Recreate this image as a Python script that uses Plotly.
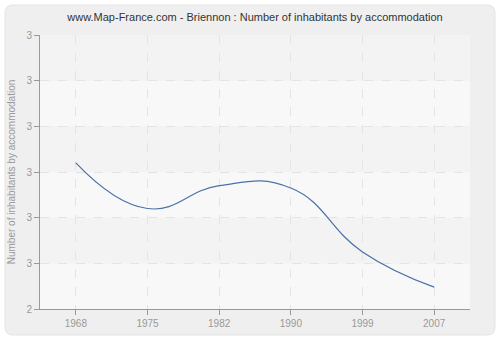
import plotly.graph_objects as go

years = ["1968", "1975", "1982", "1990", "1999", "2007"]
values = [2.72, 2.62, 2.67, 2.665, 2.525, 2.448]
y_tickvals = [2.4, 2.5, 2.6, 2.7, 2.8, 2.9, 3.0]
y_ticktext = ["2", "3", "3", "3", "3", "3", "3"]

W, H = 500, 340
L, R, T, B = 40, 30, 35, 31
pw, ph = W - L - R, H - T - B

def px(x):
    return (x - L) / pw

def py(y):
    return (H - B - y) / ph

fig = go.Figure()
fig.add_trace(go.Scatter(
    x=years, y=values, mode="lines",
    line=dict(color="#4a72a6", width=1.2, shape="spline", smoothing=1.3),
    hoverinfo="skip", showlegend=False,
))

shapes = []
# outer rounded panel
x0, x1, y0, y1, r = px(5), px(495), py(335), py(5), 8
rx, ry = r / pw, r / ph
path = (f"M {x0+rx},{y0} L {x1-rx},{y0} Q {x1},{y0} {x1},{y0+ry} "
        f"L {x1},{y1-ry} Q {x1},{y1} {x1-rx},{y1} L {x0+rx},{y1} "
        f"Q {x0},{y1} {x0},{y1-ry} L {x0},{y0+ry} Q {x0},{y0} {x0+rx},{y0} Z")
shapes.append(dict(type="path", xref="paper", yref="paper", path=path,
                   fillcolor="#efefef", line=dict(color="#e4e4e4", width=1), layer="below"))
# plot background bands
for i in range(len(y_tickvals) - 1):
    col = "#f8f8f8" if i % 2 == 0 else "#f3f3f3"
    shapes.append(dict(type="rect", xref="paper", yref="y", x0=0, x1=1,
                       y0=y_tickvals[i], y1=y_tickvals[i + 1],
                       fillcolor=col, line=dict(width=0), layer="below"))

fig.update_layout(
    width=W, height=H,
    margin=dict(l=L, r=R, t=T, b=B),
    paper_bgcolor="white", plot_bgcolor="rgba(0,0,0,0)",
    shapes=shapes,
    title=dict(text="www.Map-France.com - Briennon : Number of inhabitants by accommodation",
               x=0.5, xref="paper", xanchor="center", y=1 - 17 / H, yanchor="middle",
               font=dict(family="Liberation Sans, Arial, sans-serif", size=11, color="#333333")),
    font=dict(family="Liberation Sans, Arial, sans-serif", size=10, color="#999999"),
    xaxis=dict(type="category", range=[-0.5, 5.5], showgrid=True,
               gridcolor="#e4e4e4", griddash="dash", gridwidth=1,
               showline=True, linecolor="#999999", linewidth=1,
               ticks="outside", ticklen=5, tickcolor="#999999",
               tickfont=dict(size=10, color="#999999"), zeroline=False, fixedrange=True),
    yaxis=dict(range=[2.4, 3.0], tickvals=y_tickvals, ticktext=y_ticktext,
               showgrid=True, gridcolor="#e4e4e4", griddash="dash", gridwidth=1,
               showline=True, linecolor="#999999", linewidth=1,
               ticks="outside", ticklen=5, tickcolor="#999999",
               tickfont=dict(size=10, color="#999999"), zeroline=False,
               title=dict(text="Number of inhabitants by accommodation", standoff=8,
                          font=dict(size=10, color="#999999"))),
)

fig.write_html("out.html")
